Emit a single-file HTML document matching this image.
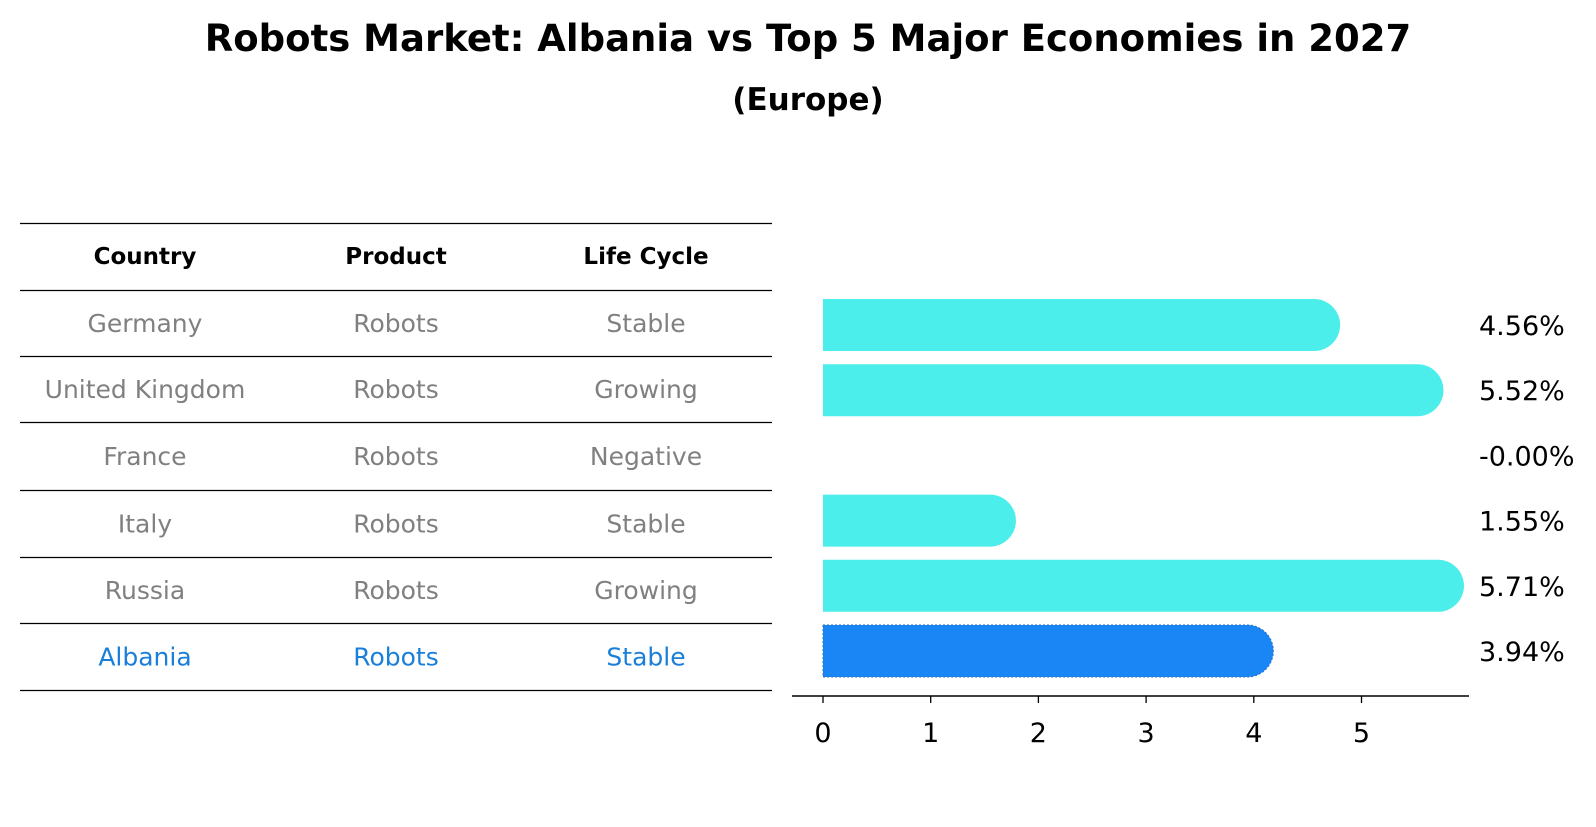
<!DOCTYPE html>
<html><head><meta charset="utf-8"><style>
body{margin:0;background:#fff;font-family:"DejaVu Sans","Liberation Sans",sans-serif;}
svg text{font-family:"DejaVu Sans","Liberation Sans",sans-serif;}
</style></head><body>
<svg width="1596" height="823" viewBox="0 0 1596 823" xmlns="http://www.w3.org/2000/svg">
<text x="808" y="51" text-anchor="middle" font-size="37" font-weight="bold">Robots Market: Albania vs Top 5 Major Economies in 2027</text>
<text x="808" y="110" text-anchor="middle" font-size="31" font-weight="bold">(Europe)</text>
<g id="table"></g>
<g id="bars"></g>
</svg>
<script>
const countries=["Germany","United Kingdom","France","Italy","Russia","Albania"];
const products=["Robots","Robots","Robots","Robots","Robots","Robots"];
const lifeCycles=["Stable","Growing","Negative","Stable","Growing","Stable"];
const growth=[4.56,5.52,-0.00,1.55,5.71,3.94];
const valueLabels=["4.56%","5.52%","-0.00%","1.55%","5.71%","3.94%"];
const ticks=[0,1,2,3,4,5];
const NS="http://www.w3.org/2000/svg";
function mk(t,a,p){const e=document.createElementNS(NS,t);for(const k in a)e.setAttribute(k,a[k]);p.appendChild(e);return e;}
const tbl=document.getElementById('table');
const lines=[223,290,356,422,490,557,623,690];
lines.forEach((y,i)=>{const l=mk('line',{x1:20,x2:772,y1:y+0.5,y2:y+0.5,stroke:'#000','stroke-width':1.2},tbl);

});
const cols=[145,396,646];
["Country","Product","Life Cycle"].forEach((h,i)=>{const t=mk('text',{x:cols[i],y:264,'text-anchor':'middle','font-size':23,'font-weight':'bold'},tbl);t.textContent=h;

});
countries.forEach((c,r)=>{const y=(lines[r+1]+lines[r+2])/2+9;const col=r===5?'#1a7fd9':'#808080';
[c,products[r],lifeCycles[r]].forEach((v,i)=>{const t=mk('text',{x:cols[i],y:y,'text-anchor':'middle','font-size':25,fill:col},tbl);t.textContent=v;

});});
const g=document.getElementById('bars');
const x0=823,ppu=107.7;const xs=v=>x0+v*ppu;
const rowY=i=>325+i*65.2;const bh=52,r=26;
growth.forEach((v,i)=>{const cy=rowY(i);const top=cy-bh/2;const xe=xs(Math.max(v,0));
if(v>0.005){const p=mk('path',{d:`M${x0},${top} H${xe} A${r},${r} 0 0 1 ${xe},${top+bh} H${x0} Z`,fill:i===5?'#1a85f5':'#4beeea'},g);
if(i===5){p.setAttribute('stroke','#2a6fc0');p.setAttribute('stroke-dasharray','2,2');p.setAttribute('stroke-width','1');}

}
const t=mk('text',{x:1479,y:cy+10,'font-size':27},g);t.textContent=valueLabels[i];

});
const ax=mk('line',{x1:792,x2:1469,y1:696,y2:696,stroke:'#000','stroke-width':1.5},g);


ticks.forEach(tv=>{const x=xs(tv);const tl=mk('line',{x1:x,x2:x,y1:696,y2:703,stroke:'#000','stroke-width':1.3},g);


const t=mk('text',{x:x,y:742,'text-anchor':'middle','font-size':27},g);t.textContent=tv;

});
</script>
</body></html>
